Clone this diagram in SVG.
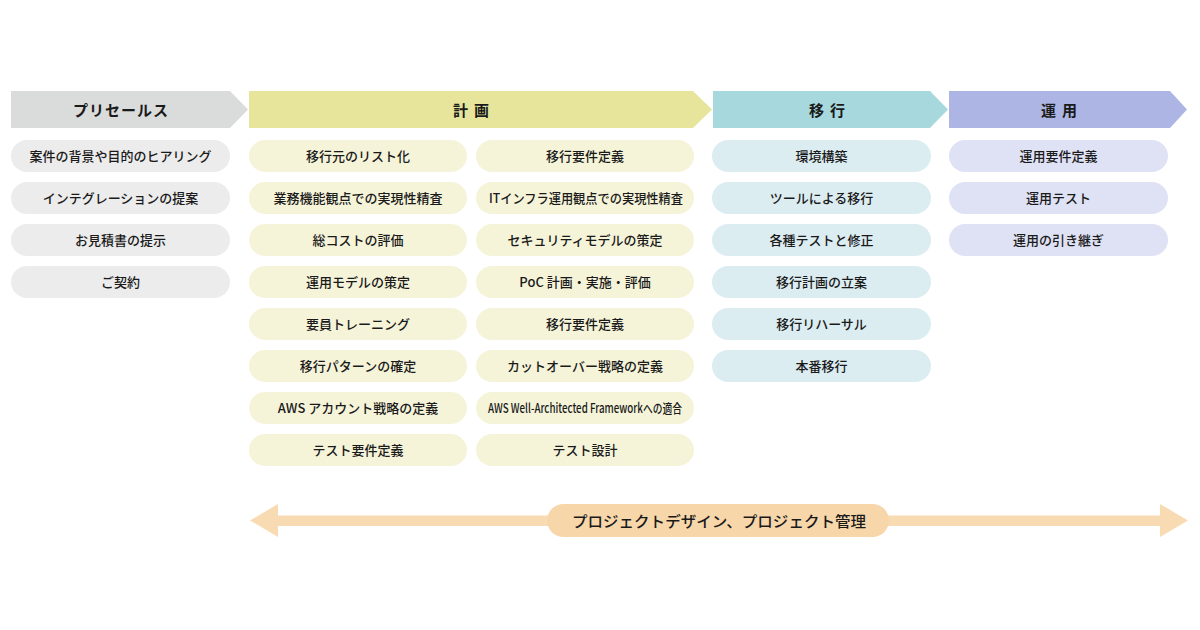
<svg xmlns="http://www.w3.org/2000/svg" width="1200" height="630" viewBox="0 0 1200 630">
<style>
text{font-family:"Noto Sans CJK JP","Noto Sans",sans-serif;fill:#1a1a1a;text-anchor:middle;dominant-baseline:central}
.h{font-size:15px;font-weight:700;letter-spacing:1px}
.h2{font-size:15px;font-weight:700;letter-spacing:6px}
.p{font-size:13px;font-weight:500}
.g1{fill:#ececec}.g2{fill:#f5f4d9}.g3{fill:#dcedf2}.g4{fill:#dfe2f5}
</style>
<rect width="1200" height="630" fill="#fff"/>
<g id="headers">
<g id="h-presales"><polygon points="11,91 230,91 248,109.5 230,128 11,128" fill="#dadbdb"/><text class="h" x="121" y="109">プリセールス</text></g>
<g id="h-plan"><polygon points="249,91 693,91 712,109.5 693,128 249,128" fill="#e6e59b"/><text class="h2" x="474" y="109">計画</text></g>
<g id="h-migrate"><polygon points="713,91 930,91 948,109.5 930,128 713,128" fill="#a6d8de"/><text class="h2" x="830" y="109">移行</text></g>
<g id="h-operate"><polygon points="949,91 1170,91 1187,109.5 1170,128 949,128" fill="#acb5e3"/><text class="h2" x="1062" y="109">運用</text></g>
</g>
<g id="presales">
<g id="ps1"><rect class="g1" x="11" y="140" width="219" height="32" rx="16"/><text class="p" x="120.5" y="155.5">案件の背景や目的のヒアリング</text></g>
<g id="ps2"><rect class="g1" x="11" y="182" width="219" height="32" rx="16"/><text class="p" x="120.5" y="197.5">インテグレーションの提案</text></g>
<g id="ps3"><rect class="g1" x="11" y="224" width="219" height="32" rx="16"/><text class="p" x="120.5" y="239.5">お見積書の提示</text></g>
<g id="ps4"><rect class="g1" x="11" y="266" width="219" height="32" rx="16"/><text class="p" x="120.5" y="281.5">ご契約</text></g>
</g>
<g id="plan">
<g id="pl1"><rect class="g2" x="249" y="140" width="218" height="32" rx="16"/><text class="p" x="358" y="155.5">移行元のリスト化</text></g>
<g id="pl2"><rect class="g2" x="249" y="182" width="218" height="32" rx="16"/><text class="p" x="358" y="197.5">業務機能観点での実現性精査</text></g>
<g id="pl3"><rect class="g2" x="249" y="224" width="218" height="32" rx="16"/><text class="p" x="358" y="239.5">総コストの評価</text></g>
<g id="pl4"><rect class="g2" x="249" y="266" width="218" height="32" rx="16"/><text class="p" x="358" y="281.5">運用モデルの策定</text></g>
<g id="pl5"><rect class="g2" x="249" y="308" width="218" height="32" rx="16"/><text class="p" x="358" y="323.5">要員トレーニング</text></g>
<g id="pl6"><rect class="g2" x="249" y="350" width="218" height="32" rx="16"/><text class="p" x="358" y="365.5">移行パターンの確定</text></g>
<g id="pl7"><rect class="g2" x="249" y="392" width="218" height="32" rx="16"/><text class="p" x="358" y="407.5">AWS アカウント戦略の定義</text></g>
<g id="pl8"><rect class="g2" x="249" y="434" width="218" height="32" rx="16"/><text class="p" x="358" y="449.5">テスト要件定義</text></g>
<g id="pr1"><rect class="g2" x="476" y="140" width="218" height="32" rx="16"/><text class="p" x="585" y="155.5">移行要件定義</text></g>
<g id="pr2"><rect class="g2" x="476" y="182" width="218" height="32" rx="16"/><text class="p" x="586" y="197.5" textLength="194" lengthAdjust="spacingAndGlyphs">ITインフラ運用観点での実現性精査</text></g>
<g id="pr3"><rect class="g2" x="476" y="224" width="218" height="32" rx="16"/><text class="p" x="585" y="239.5">セキュリティモデルの策定</text></g>
<g id="pr4"><rect class="g2" x="476" y="266" width="218" height="32" rx="16"/><text class="p" x="585" y="281.5">PoC 計画・実施・評価</text></g>
<g id="pr5"><rect class="g2" x="476" y="308" width="218" height="32" rx="16"/><text class="p" x="585" y="323.5">移行要件定義</text></g>
<g id="pr6"><rect class="g2" x="476" y="350" width="218" height="32" rx="16"/><text class="p" x="585" y="365.5">カットオーバー戦略の定義</text></g>
<g id="pr7"><rect class="g2" x="476" y="392" width="218" height="32" rx="16"/><text class="p" x="585" y="407.5" textLength="194" lengthAdjust="spacingAndGlyphs">AWS Well-Architected Frameworkへの適合</text></g>
<g id="pr8"><rect class="g2" x="476" y="434" width="218" height="32" rx="16"/><text class="p" x="585" y="449.5">テスト設計</text></g>
</g>
<g id="migrate">
<g id="m1"><rect class="g3" x="712" y="140" width="219" height="32" rx="16"/><text class="p" x="821.5" y="155.5">環境構築</text></g>
<g id="m2"><rect class="g3" x="712" y="182" width="219" height="32" rx="16"/><text class="p" x="821.5" y="197.5">ツールによる移行</text></g>
<g id="m3"><rect class="g3" x="712" y="224" width="219" height="32" rx="16"/><text class="p" x="821.5" y="239.5">各種テストと修正</text></g>
<g id="m4"><rect class="g3" x="712" y="266" width="219" height="32" rx="16"/><text class="p" x="821.5" y="281.5">移行計画の立案</text></g>
<g id="m5"><rect class="g3" x="712" y="308" width="219" height="32" rx="16"/><text class="p" x="821.5" y="323.5">移行リハーサル</text></g>
<g id="m6"><rect class="g3" x="712" y="350" width="219" height="32" rx="16"/><text class="p" x="821.5" y="365.5">本番移行</text></g>
</g>
<g id="operate">
<g id="o1"><rect class="g4" x="949" y="140" width="219" height="32" rx="16"/><text class="p" x="1058.5" y="155.5">運用要件定義</text></g>
<g id="o2"><rect class="g4" x="949" y="182" width="219" height="32" rx="16"/><text class="p" x="1058.5" y="197.5">運用テスト</text></g>
<g id="o3"><rect class="g4" x="949" y="224" width="219" height="32" rx="16"/><text class="p" x="1058.5" y="239.5">運用の引き継ぎ</text></g>
</g>
<g id="connectors">
<polygon points="250,520.5 278,504 278,515.5 1160,515.5 1160,504 1188,520.5 1160,537 1160,526 278,526 278,537" fill="#f8dbb2"/>
</g>
<g id="pm"><rect x="547" y="504" width="342" height="33" rx="16.5" fill="#f7d6aa"/><text x="719" y="520" font-size="15" font-weight="500" textLength="294" lengthAdjust="spacingAndGlyphs">プロジェクトデザイン、プロジェクト管理</text></g>
</svg>
